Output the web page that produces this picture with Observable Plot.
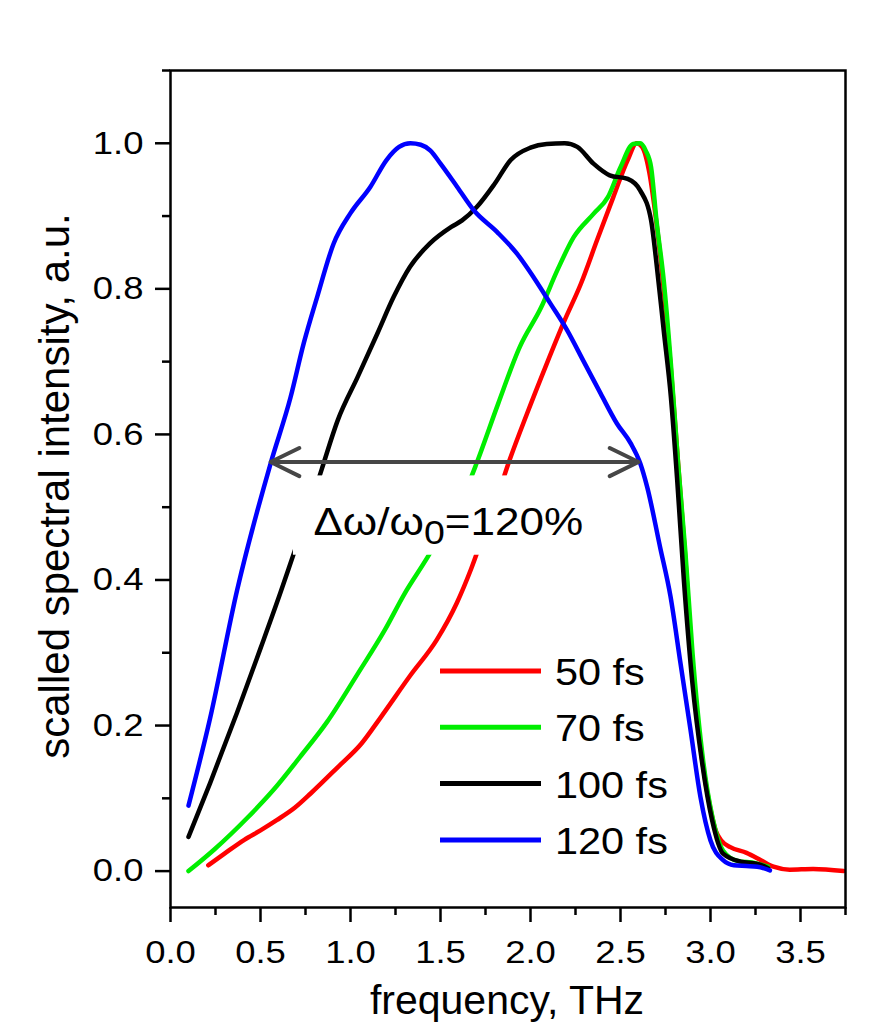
<!DOCTYPE html>
<html><head><meta charset="utf-8">
<script src="https://cdn.jsdelivr.net/npm/d3@7"></script>
<script src="https://cdn.jsdelivr.net/npm/@observablehq/plot@0.6"></script>
<style>body{margin:0;background:#fff;} #chart{width:879px;height:1025px;overflow:hidden}</style>
</head><body><div id="chart"></div>
<script>
// ---- data (frequency in THz, scaled spectral intensity) ----
const f50 = [0.21,0.30,0.41,0.50,0.59,0.69,0.78,0.93,1.06,1.17,1.33,1.48,1.59,1.67,1.75,1.81,1.88,1.98,2.09,2.19,2.28,2.37,2.46,2.54,2.59,2.62,2.66,2.70,2.74,2.78,2.82,2.86,2.90,2.95,3.00,3.03,3.06,3.11,3.20,3.28,3.35,3.44,3.57,3.74];
const v50 = [0.008,0.024,0.043,0.056,0.07,0.087,0.107,0.143,0.175,0.212,0.268,0.318,0.368,0.415,0.47,0.51,0.562,0.628,0.697,0.757,0.807,0.867,0.926,0.977,1.0,0.995,0.96,0.89,0.80,0.69,0.56,0.43,0.28,0.16,0.085,0.055,0.042,0.033,0.025,0.015,0.006,0.002,0.003,0.0];

const f70 = [0.10,0.24,0.43,0.57,0.72,0.87,1.04,1.19,1.30,1.43,1.55,1.67,1.70,1.82,1.94,2.06,2.15,2.24,2.35,2.43,2.50,2.57,2.61,2.64,2.67,2.70,2.74,2.78,2.82,2.86,2.90,2.96,3.01,3.07,3.15,3.25,3.32];
const v70 = [0.0,0.029,0.074,0.111,0.157,0.205,0.271,0.331,0.381,0.432,0.484,0.541,0.56,0.642,0.72,0.775,0.826,0.871,0.903,0.926,0.967,0.999,1.0,0.99,0.967,0.894,0.812,0.697,0.56,0.44,0.30,0.15,0.075,0.028,0.014,0.011,0.006];

const f100 = [0.10,0.22,0.37,0.50,0.61,0.69,0.76,0.84,0.93,1.04,1.15,1.24,1.33,1.44,1.56,1.62,1.70,1.80,1.89,2.00,2.09,2.19,2.26,2.35,2.44,2.54,2.61,2.67,2.70,2.74,2.78,2.815,2.852,2.898,2.954,3.009,3.07,3.167,3.26,3.32];
const v100 = [0.047,0.121,0.218,0.306,0.382,0.44,0.49,0.552,0.62,0.679,0.739,0.789,0.83,0.862,0.885,0.894,0.912,0.944,0.977,0.994,0.999,1.0,0.995,0.972,0.956,0.951,0.935,0.894,0.835,0.743,0.651,0.537,0.40,0.262,0.148,0.07,0.024,0.013,0.01,0.004];

const f120 = [0.10,0.22,0.37,0.556,0.667,0.74,0.815,0.906,1.0,1.11,1.20,1.27,1.333,1.39,1.444,1.5,1.593,1.685,1.815,1.926,2.017,2.11,2.204,2.296,2.39,2.48,2.556,2.61,2.648,2.72,2.778,2.833,2.889,2.944,3.0,3.07,3.13,3.2,3.26,3.33];
const v120 = [0.09,0.21,0.386,0.56,0.651,0.725,0.789,0.862,0.904,0.94,0.977,0.995,1.0,0.998,0.99,0.972,0.94,0.908,0.878,0.848,0.816,0.78,0.743,0.70,0.656,0.615,0.588,0.56,0.528,0.445,0.377,0.286,0.194,0.102,0.042,0.015,0.008,0.007,0.006,0.001];

const seriesNames = ["50 fs", "70 fs", "100 fs", "120 fs"];
const seriesColors = ["#ff0000", "#00ee00", "#000000", "#0000ff"];

const xMajorTicks = [0, 0.5, 1.0, 1.5, 2.0, 2.5, 3.0, 3.5];
const xMinorTicks = [0.25, 0.75, 1.25, 1.75, 2.25, 2.75, 3.25, 3.75];
const yMajorTicks = [0, 0.2, 0.4, 0.6, 0.8, 1.0];
const yMinorTicks = [0.1, 0.3, 0.5, 0.7, 0.9, 1.1];

// annotation: width arrow of the 120 fs spectrum
const arrowFrom = [0.556], arrowTo = [2.60], arrowLevel = [0.562];
const annotText = ["Δω/ω0=120%"];
const annotPos = [{x: 0.794, y: 0.462}];
const annotBox = [{x1: 0.683, x2: 2.40, y1: 0.434, y2: 0.543}];

const xLabel = "frequency, THz";
const yLabel = "scalled spectral intensity, a.u.";

// ---- build ----
const toRows = (fs, vs) => fs.map((f, i) => ({f, v: vs[i]}));
const allSeries = [[f50, v50], [f70, v70], [f100, v100], [f120, v120]];
const mid = (arrowFrom[0] + arrowTo[0]) / 2;
const arrows = [
  {x1: mid, x2: arrowFrom[0], y: arrowLevel[0]},
  {x1: mid, x2: arrowTo[0], y: arrowLevel[0]}
];

const lineMarks = allSeries.map(([fs, vs], i) =>
  Plot.line(toRows(fs, vs), {x: "f", y: "v", stroke: seriesColors[i], strokeWidth: 4.5, curve: "monotone-x"}));

const plot = Plot.plot({
  width: 879, height: 1025,
  marginLeft: 170, marginRight: 34, marginTop: 70, marginBottom: 118,
  style: {fontFamily: "'Liberation Sans', Arial, sans-serif", background: "white", color: "black"},
  x: {domain: [0, 3.75], label: null},
  y: {domain: [-0.05, 1.1], label: null},
  marks: [
    ...lineMarks,
    Plot.rect(annotBox, {x1: "x1", x2: "x2", y1: "y1", y2: "y2", fill: "white"}),
    Plot.text(annotPos, {x: "x", y: "y", text: () => annotText[0], textAnchor: "start", lineAnchor: "bottom", fontSize: 38, fill: "black"}),
    Plot.arrow(arrows, {x1: "x1", x2: "x2", y1: "y", y2: "y", stroke: "#464646", strokeWidth: 4, headLength: 12, headAngle: 52}),
    Plot.axisX(xMajorTicks, {tickSize: 15, tickPadding: 18, tickFormat: d3.format(".1f"), fontSize: 32, strokeWidth: 2.5, label: null}),
    Plot.axisX(xMinorTicks, {tickSize: 8, tickFormat: () => "", strokeWidth: 2.5, label: null}),
    Plot.axisY(yMajorTicks, {tickSize: 15, tickPadding: 12, tickFormat: d3.format(".1f"), fontSize: 32, strokeWidth: 2.5, label: null}),
    Plot.axisY(yMinorTicks, {tickSize: 8, tickFormat: () => "", strokeWidth: 2.5, label: null}),
    Plot.frame({stroke: "black", strokeWidth: 2.5})
  ]
});

const svg = d3.select(plot);
// tick labels: size and horizontal widening like the reference
svg.selectAll("text").filter(function() { return /^\d\.\d$/.test(this.textContent); }).each(function() {
  this.setAttribute("font-size", 32);
  this.style.fontSize = "32px";
  const t = this.getAttribute("transform") || "";
  this.setAttribute("transform", t + " scale(1.14,1)");
});
// subscript in annotation
svg.selectAll("text").filter(function() { return this.textContent === annotText[0]; }).each(function() {
  const el = d3.select(this);
  el.text(null);
  el.attr("font-size", 38).attr("text-anchor", "start");
  el.append("tspan").text("Δω/ω");
  el.append("tspan").attr("dy", "0.28em").attr("font-size", "0.85em").text("0");
  el.append("tspan").attr("dy", "-0.24em").text("=120%");
  const t = this.getAttribute("transform") || "";
  this.setAttribute("transform", t + " scale(1.16,1)");
});
// axis titles
svg.append("text").attr("x", 507).attr("y", 1014).attr("text-anchor", "middle")
  .attr("font-size", 41).attr("fill", "black").text(xLabel);
svg.append("text").attr("transform", "translate(69,486) rotate(-90)").attr("text-anchor", "middle")
  .attr("font-size", 42).attr("fill", "black").text(yLabel);
// legend
const lg = svg.append("g").attr("text-anchor", "start");
seriesNames.forEach((name, i) => {
  const yy = 671 + i * 56.3;
  lg.append("line").attr("x1", 440).attr("x2", 541).attr("y1", yy).attr("y2", yy)
    .attr("stroke", seriesColors[i]).attr("stroke-width", 5);
  lg.append("text").attr("transform", `translate(555,${yy + 14}) scale(1.12,1)`)
    .attr("text-anchor", "start").attr("font-size", 37).attr("fill", "black").text(name);
});

document.getElementById("chart").appendChild(plot);
</script>
</body></html>
